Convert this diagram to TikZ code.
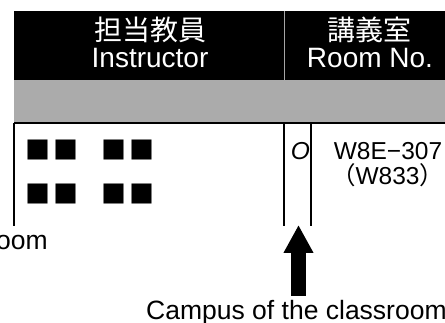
\documentclass[tikz,border=0pt]{standalone}
\usepackage{fontspec}
\setmainfont{Liberation Sans}
\newfontfamily\cjk{Noto Sans CJK JP}
\usetikzlibrary{arrows.meta}
\definecolor{bandgray}{RGB}{171,171,171}
\newcommand\sqglyph{\makebox[28pt]{\cjk ■}}
\begin{document}
\begin{tikzpicture}[x=1pt,y=-1pt,
  rule/.style={line width=1.4pt},
  hdr/.style={text=white, inner sep=0pt, font=\fontsize{28}{30}\selectfont},
  cell/.style={inner sep=0pt, font=\fontsize{24.5}{26}\selectfont},
  sqs/.style={inner sep=0pt, font=\fontsize{25}{26}\selectfont},
  lbl/.style={inner xsep=0pt, inner ysep=5pt, font=\fontsize{26.5}{28}\selectfont},
  bigarrow/.style={line width=15pt, -{Triangle[width=28pt,length=28pt]}}]
\useasboundingbox[fill=white] (0,0) rectangle (445,323);
% header and band
\fill[black] (14,11) rectangle (445,80);
\fill[bandgray] (14,80) rectangle (445,122);
\draw[gray!70, line width=1pt] (284,11) -- (284,80);
% table rules
\draw[rule] (14,123) -- (445,123);
\draw[rule] (14,123) -- (14,226);
\draw[rule] (284,123) -- (284,226);
\draw[rule] (311,123) -- (311,226);
% header texts
\node[hdr] (h1jp) at (150,30) {\cjk 担当教員};
\node[hdr, anchor=base] (h1en) at (150,68) {Instructor};
\node[hdr] (h2jp) at (369.5,30) {\cjk 講義室};
\node[hdr, anchor=base] (h2en) at (370,68) {Room No.};
% row texts
\node[sqs] (n1) at (52,150) {\sqglyph\sqglyph};
\node[sqs] (n2) at (128,150) {\sqglyph\sqglyph};
\node[sqs] (n3) at (52,194) {\sqglyph\sqglyph};
\node[sqs] (n4) at (128,194) {\sqglyph\sqglyph};
\node[cell, anchor=base] (camp) at (300.5,160) {\itshape O};
\node[cell, anchor=base] (room) at (388,160) {W8E−307};
\node[cell, anchor=base] (old) at (387.5,185) {{\cjk （}W833{\cjk ）}};
% labels
\node[lbl, anchor=base east] (oom) at (48,250) {oom};
\node[lbl, anchor=base west] (lab) at (146,320) {Campus of the classroom};
\coordinate (colbot) at (298.5,225);
\draw[bigarrow] (lab.north -| colbot) -- (colbot);
\end{tikzpicture}
\end{document}
